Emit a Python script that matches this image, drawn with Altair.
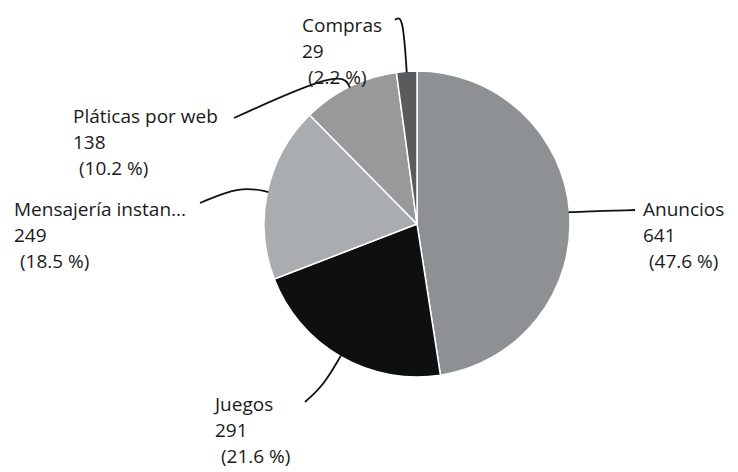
import math
import altair as alt
import pandas as pd

# ---- data ----
categories = ["Anuncios", "Juegos", "Mensajería instan...", "Pláticas por web", "Compras"]
values = [641, 291, 249, 138, 29]
slice_colors = ["#8e9193", "#0e1010", "#aaadaf", "#97999b", "#595b5c"]

# ---- layout (pixels) ----
W, H = 738, 472
CX, CY, R = 417, 224, 153
FONT = "Open Sans"
FS = 19
LH = 26
PCT_INDENT = 6
# first-line baseline position (left edge) of each label block
label_left = [643, 215, 14, 73, 302]
label_base = [216, 411, 216, 123, 32]
# leader: radius of the bend on the slice's mid-angle, and end point near the label
elbow_r = [160, 186, 181, 172, 210]
leader_end = [(635, 210), (305, 402), (200, 203), (234, 118), (395, 20)]

total = sum(values)
rows_arc, rows_txt, rows_line = [], [], []
acc = 0
for i, (c, v) in enumerate(zip(categories, values)):
    rows_arc.append({"cat": c, "value": v, "idx": i})
    mid = (acc + v / 2) / total * 2 * math.pi
    acc += v
    pct = f"{v / total * 100:.1f}"
    lines = [c, str(v), "(" + pct + " %)"]
    for j, t in enumerate(lines):
        rows_txt.append({
            "x": label_left[i] + (PCT_INDENT if j == 2 else 0),
            "y": label_base[i] + j * LH,
            "t": t,
        })
    pts = [
        (CX + (R - 1) * math.sin(mid), CY - (R - 1) * math.cos(mid)),
        (CX + elbow_r[i] * math.sin(mid), CY - elbow_r[i] * math.cos(mid)),
        leader_end[i],
    ]
    for k, (px, py) in enumerate(pts):
        rows_line.append({"cat": c, "k": k, "x": px, "y": py})

arc_df = pd.DataFrame(rows_arc)
txt_df = pd.DataFrame(rows_txt)
line_df = pd.DataFrame(rows_line)

xs = alt.Scale(domain=[0, W], nice=False, zero=False)
ys = alt.Scale(domain=[0, H], nice=False, zero=False, reverse=True)

pie = alt.Chart(arc_df).mark_arc(radius=R, stroke="white", strokeWidth=1.5).encode(
    theta=alt.Theta("value:Q", stack=True),
    order=alt.Order("idx:Q"),
    color=alt.Color("cat:N", scale=alt.Scale(domain=categories, range=slice_colors), legend=None),
    x=alt.value(CX),
    y=alt.value(CY),
)

leaders = alt.Chart(line_df).mark_line(color="#111111", strokeWidth=1.8, interpolate="basis").encode(
    x=alt.X("x:Q", scale=xs, axis=None),
    y=alt.Y("y:Q", scale=ys, axis=None),
    detail="cat:N",
    order="k:Q",
)

labels = alt.Chart(txt_df).mark_text(
    align="left", baseline="alphabetic", font=FONT, fontSize=FS, color="#1a1a1a"
).encode(
    x=alt.X("x:Q", scale=xs, axis=None),
    y=alt.Y("y:Q", scale=ys, axis=None),
    text="t:N",
)

chart = alt.layer(pie, leaders, labels).properties(
    width=W, height=H, autosize=alt.AutoSizeParams(type="none"), padding=0,
    background="white",
).configure_view(stroke=None)

chart.save("out.html", embed_options={"renderer": "svg", "actions": False})
